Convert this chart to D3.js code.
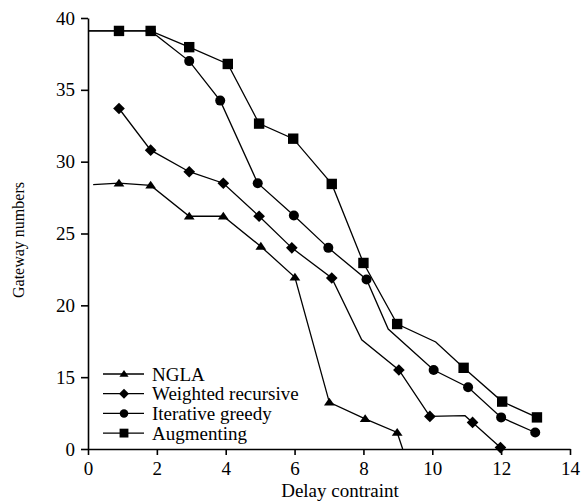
<!DOCTYPE html>
<html>
<head>
<meta charset="utf-8">
<script src="https://cdn.jsdelivr.net/npm/d3@7"></script>
<style>
  body { margin: 0; background: #fff; }
  text { font-family: "Liberation Serif", "Times New Roman", serif; fill: #000; }
</style>
</head>
<body>
<svg id="chart"></svg>
<script>
const width = 581;
const height = 504;

// Series data: [delay, gateways, hasMarker]
const names = ["NGLA", "Weighted recursive", "Iterative greedy", "Augmenting"];
const ngla = [
  [0.15, 28.4, 0], [0.9, 28.5, 1], [1.82, 28.35, 1], [2.94, 26.2, 1], [3.93, 26.2, 1],
  [5.02, 24.1, 1], [6.01, 21.95, 1], [7.01, 13.25, 1], [8.05, 12.1, 1], [8.98, 11.15, 1],
  [9.14, 10, 0]
];
const weighted = [
  [0.9, 33.7, 1], [1.82, 30.8, 1], [2.94, 29.3, 1], [3.93, 28.5, 1], [4.97, 26.2, 1],
  [5.92, 24.0, 1], [7.08, 21.9, 1], [7.95, 17.6, 0], [9.03, 15.5, 1], [9.93, 12.27, 1],
  [10.95, 12.32, 0], [11.17, 11.85, 1], [11.98, 10.1, 1]
];
const greedy = [
  [0, 39.1, 0], [0.9, 39.1, 1], [1.82, 39.1, 1], [2.94, 37.0, 1], [3.84, 34.25, 1],
  [4.93, 28.5, 1], [5.98, 26.25, 1], [6.98, 24.0, 1], [8.09, 21.8, 1], [8.72, 18.35, 0],
  [10.04, 15.5, 1], [11.04, 14.3, 1], [12.0, 12.2, 1], [12.99, 11.15, 1]
];
const augmenting = [
  [0, 39.1, 0], [0.9, 39.1, 1], [1.82, 39.1, 1], [2.94, 37.97, 1], [4.06, 36.8, 1],
  [4.97, 32.65, 1], [5.96, 31.6, 1], [7.08, 28.45, 1], [8.0, 22.95, 1], [8.98, 18.7, 1],
  [10.1, 17.45, 0], [10.91, 15.65, 1], [12.03, 13.3, 1], [13.04, 12.2, 1]
];
const xTicks = [0, 2, 4, 6, 8, 10, 12, 14];
const yTicks = [10, 15, 20, 25, 30, 35, 40];
const yTickLabels = ["0", "15", "20", "25", "30", "35", "40"];

const svg = d3.select("#chart")
    .attr("width", width)
    .attr("height", height);

// Scales
const x = d3.scaleLinear().domain([0, 14]).range([88, 570]);
const y = d3.scaleLinear().domain([10, 40]).range([449, 18]);

// Marker shapes
function marker(kind, s) {
  const p = d3.path();
  if (kind === "triangle") {
    p.moveTo(0, -s * 0.85); p.lineTo(s, s * 0.6); p.lineTo(-s, s * 0.6); p.closePath();
  } else if (kind === "diamond") {
    p.moveTo(0, -s * 1.1); p.lineTo(s * 1.1, 0); p.lineTo(0, s * 1.1); p.lineTo(-s * 1.1, 0); p.closePath();
  } else if (kind === "circle") {
    p.arc(0, 0, s, 0, 2 * Math.PI);
  } else {
    p.rect(-s, -s, 2 * s, 2 * s);
  }
  return p.toString();
}

const series = [
  { name: names[0], pts: ngla, shape: "triangle", size: 5.4 },
  { name: names[1], pts: weighted, shape: "diamond", size: 5.3 },
  { name: names[2], pts: greedy, shape: "circle", size: 5.0 },
  { name: names[3], pts: augmenting, shape: "square", size: 5.2 }
];

// Axes
svg.append("g")
    .attr("transform", `translate(0,${y(10)})`)
    .call(d3.axisBottom(x).tickValues(xTicks).tickSize(6).tickSizeOuter(0).tickPadding(7))
    .call(g => g.selectAll("text").style("font-size", "19px"));

svg.append("g")
    .attr("transform", `translate(${x(0)},0)`)
    .call(d3.axisLeft(y).tickValues(yTicks).tickFormat((d, i) => yTickLabels[i])
        .tickSize(7).tickSizeOuter(0).tickPadding(6))
    .call(g => g.selectAll("text").style("font-size", "19px"));

svg.selectAll(".domain, .tick line").attr("stroke", "#000").attr("stroke-width", 1.6);

// Lines and markers
const line = d3.line().x(d => x(d[0])).y(d => y(d[1]));

series.forEach(s => {
  svg.append("path")
      .attr("d", line(s.pts))
      .attr("fill", "none")
      .attr("stroke", "#000")
      .attr("stroke-width", 1.3);

  svg.selectAll(null)
      .data(s.pts.filter(d => d[2]))
      .enter()
      .append("path")
      .attr("transform", d => `translate(${x(d[0])},${y(d[1])})`)
      .attr("d", marker(s.shape, s.size))
      .attr("fill", "#000");
});

// Legend
const legend = svg.append("g").attr("transform", "translate(103,374)");
series.forEach((s, i) => {
  const row = legend.append("g").attr("transform", `translate(0,${i * 19.7})`);
  row.append("line")
      .attr("x1", 0).attr("x2", 41)
      .attr("stroke", "#000").attr("stroke-width", 1.3);
  row.append("path")
      .attr("transform", "translate(21,0)")
      .attr("d", marker(s.shape, s.size * 0.85))
      .attr("fill", "#000");
  row.append("text")
      .attr("x", 49)
      .attr("dy", "0.35em")
      .style("font-size", "19px")
      .text(s.name);
});

// Axis titles
svg.append("text")
    .attr("x", 340)
    .attr("y", 497)
    .attr("text-anchor", "middle")
    .style("font-size", "19px")
    .text("Delay contraint");

svg.append("text")
    .attr("transform", "translate(24,240) rotate(-90)")
    .attr("text-anchor", "middle")
    .style("font-size", "16px")
    .text("Gateway numbers");
</script>
</body>
</html>
